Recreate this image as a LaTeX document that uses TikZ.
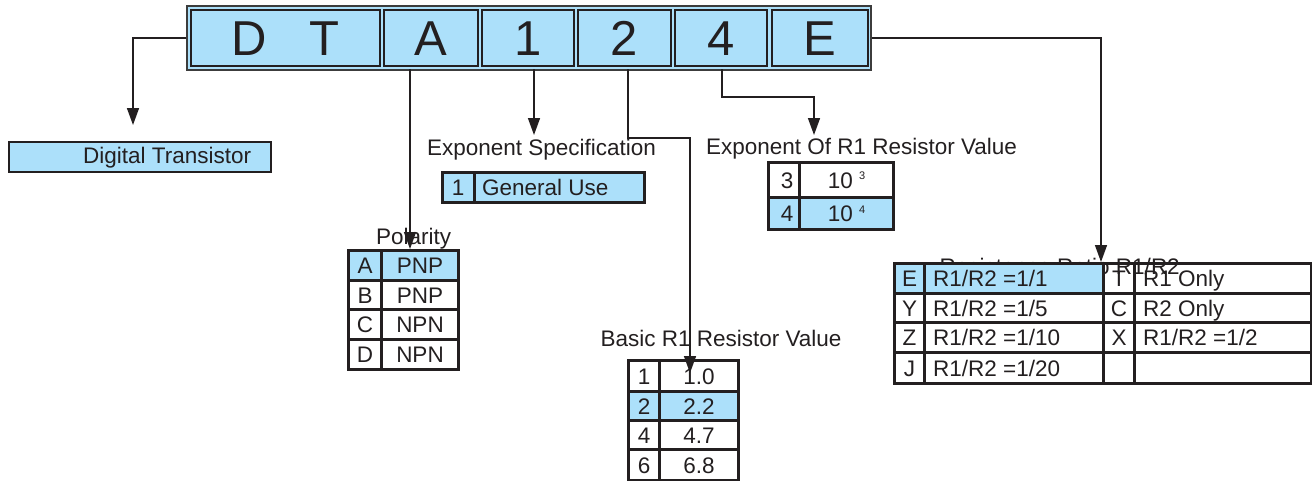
\documentclass[tikz,border=0pt]{standalone}
\usepackage{fontspec}
\setmainfont{Liberation Sans}
\usetikzlibrary{arrows.meta,calc}
\definecolor{cellblue}{RGB}{172,224,250}
\definecolor{ink}{RGB}{35,31,32}
\definecolor{bargray}{RGB}{60,60,60}
\newcommand\tabfont{\fontsize{22.5}{27}\selectfont}
\newcommand\bigfont{\fontsize{49}{49}\selectfont}
\newcommand\tcell[7]{\pgfmathsetmacro\cw{#4-#2}\pgfmathsetmacro\ch{#5-#3}%
  \node[#6, minimum width=\cw pt, minimum height=\ch pt, anchor=north west] (#1) at (#2,#3) {#7};}
\tikzset{
  cellbase/.style={draw=ink, line width=3pt, font=\tabfont, text=ink, inner sep=0pt,
    text height=16.1pt, text depth=0pt},
  tblue/.style={cellbase, fill=cellblue},
  twhite/.style={cellbase},
  sblue/.style={cellbase, fill=cellblue, line width=2.5pt},
  dtbox/.style={draw=ink, line width=1.5pt, fill=cellblue, inner sep=0pt},
  barouter/.style={draw=bargray, line width=2pt, fill=cellblue, inner sep=0pt},
  barbox/.style={draw=ink, line width=1.8pt, fill=cellblue, inner sep=0pt,
    font=\bigfont, text=ink, text height=35.1pt, text depth=0pt},
  lbl/.style={font=\tabfont, text=ink, inner sep=0pt},
  ctext/.style={font=\tabfont, text=ink, inner sep=0pt, text height=16.1pt, text depth=0pt},
  arr/.style={draw=ink, line width=1.5pt, -{Triangle[width=12pt,length=17pt]}},
}
\begin{document}
\begin{tikzpicture}[x=1pt,y=-1pt]
\useasboundingbox (0,0) rectangle (1312,480);

% ---- top code bar
\node[barouter, minimum width=684.5pt, minimum height=64pt, anchor=north west] (bar) at (185.5,5) {};
\tcell{bDT}{190}{9}{379}{65}{barbox}{D\hspace{42.7pt}T}
\tcell{bA}{383}{9}{477}{65}{barbox}{A}
\tcell{bOne}{481}{9}{573}{65}{barbox}{1}
\tcell{bTwo}{577}{9}{670}{65}{barbox}{2}
\tcell{bFour}{674}{9}{766}{65}{barbox}{4}
\tcell{bE}{771}{9}{867}{65}{barbox}{E}

% ---- Digital Transistor
\tcell{dt}{8}{141}{270}{171}{dtbox}{}
\node[lbl, anchor=base west] (tDT) at (83,163) {Digital Transistor};

% ---- Exponent specification
\node[lbl, anchor=base] (tExpSpec) at (541.5,155) {Exponent Specification};
\tcell{es1}{441}{171}{473}{201}{sblue}{1}
\tcell{es1v}{473}{171}{643}{201}{sblue}{}
\node[ctext, anchor=west] (tGU) at ([xshift=9pt]es1v.west) {General Use};

% ---- Polarity
\node[lbl, anchor=base] (tPol) at (413.7,244) {Polarity};
\tcell{pA}{347}{249}{380}{279}{tblue}{A}
\tcell{pAv}{380}{249}{457}{279}{tblue}{PNP}
\tcell{pB}{347}{279}{380}{308}{twhite}{B}
\tcell{pBv}{380}{279}{457}{308}{twhite}{PNP}
\tcell{pC}{347}{308}{380}{338}{twhite}{C}
\tcell{pCv}{380}{308}{457}{338}{twhite}{NPN}
\tcell{pD}{347}{338}{380}{368}{twhite}{D}
\tcell{pDv}{380}{338}{457}{368}{twhite}{NPN}

% ---- Basic R1 resistor value
\node[lbl, anchor=base] (tBasic) at (721,346) {Basic R1 Resistor Value};
\tcell{r1}{627}{359}{658}{390}{twhite}{1}
\tcell{r1v}{658}{359}{737}{390}{twhite}{1.0}
\tcell{r2}{627}{390}{658}{419}{tblue}{2}
\tcell{r2v}{658}{390}{737}{419}{tblue}{2.2}
\tcell{r4}{627}{419}{658}{448}{twhite}{4}
\tcell{r4v}{658}{419}{737}{448}{twhite}{4.7}
\tcell{r6}{627}{448}{658}{479}{twhite}{6}
\tcell{r6v}{658}{448}{737}{479}{twhite}{6.8}

% ---- Exponent of R1 resistor value
\node[lbl, anchor=base] (tExpR1) at (861.5,154) {Exponent Of R1 Resistor Value};
\tcell{x3}{767}{161}{798}{196}{twhite}{\hspace{6pt}3}
\tcell{x3v}{798}{161}{892}{196}{twhite}{10 \raisebox{8.2pt}{\fontsize{11}{11}\selectfont 3}\hspace{6pt}}
\tcell{x4}{767}{196}{798}{228}{tblue}{\hspace{6pt}4}
\tcell{x4v}{798}{196}{892}{228}{tblue}{10 \raisebox{8.2pt}{\fontsize{11}{11}\selectfont 4}\hspace{6pt}}

% ---- Resistance ratio
\node[lbl, anchor=base east] (tRatio) at (1180,274) {Resistance Ratio R1/R2};
\tcell{qE}{893}{262}{923}{292}{tblue}{E}
\tcell{qEv}{923}{262}{1102}{292}{tblue}{}
\tcell{qT}{1102}{262}{1133}{292}{twhite}{T}
\tcell{qTv}{1133}{262}{1310}{292}{twhite}{}
\tcell{qY}{893}{292}{923}{321}{twhite}{Y}
\tcell{qYv}{923}{292}{1102}{321}{twhite}{}
\tcell{qC}{1102}{292}{1133}{321}{twhite}{C}
\tcell{qCv}{1133}{292}{1310}{321}{twhite}{}
\tcell{qZ}{893}{321}{923}{351}{twhite}{Z}
\tcell{qZv}{923}{321}{1102}{351}{twhite}{}
\tcell{qX}{1102}{321}{1133}{351}{twhite}{X}
\tcell{qXv}{1133}{321}{1310}{351}{twhite}{}
\tcell{qJ}{893}{351}{923}{382}{twhite}{J}
\tcell{qJv}{923}{351}{1102}{382}{twhite}{}
\tcell{qK}{1102}{351}{1133}{382}{twhite}{}
\tcell{qKv}{1133}{351}{1310}{382}{twhite}{}
\node[ctext, anchor=west] (tqE) at ([xshift=10pt]qEv.west) {R1/R2 =1/1};
\node[ctext, anchor=west] (tqY) at ([xshift=10pt]qYv.west) {R1/R2 =1/5};
\node[ctext, anchor=west] (tqZ) at ([xshift=10pt]qZv.west) {R1/R2 =1/10};
\node[ctext, anchor=west] (tqJ) at ([xshift=10pt]qJv.west) {R1/R2 =1/20};
\node[ctext, anchor=west] (tqT) at ([xshift=10pt]qTv.west) {R1 Only};
\node[ctext, anchor=west] (tqC) at ([xshift=10pt]qCv.west) {R2 Only};
\node[ctext, anchor=west] (tqX) at ([xshift=10pt]qXv.west) {R1/R2 =1/2};

% ---- connectors
\coordinate (cDT) at (133,125);
\coordinate (cA0) at (410,69);   \coordinate (cA1) at (410,249);
\coordinate (c10) at (534,69);   \coordinate (c11) at (534,135);
\coordinate (c20) at (628,69);   \coordinate (c2m) at (690,138); \coordinate (c21) at (690,373);
\coordinate (c40) at (722,69);   \coordinate (c4m) at (814,97);  \coordinate (c41) at (814,135);
\coordinate (cE) at (1101,262);

\draw[arr] (bar.west) -| (cDT);
\draw[arr] (cA0) -- (cA1);
\draw[arr] (c10) -- (c11);
\draw[arr] (c20) |- (c2m) -- (c21);
\draw[arr] (c40) |- (c4m) -- (c41);
\draw[arr] (bar.east) -| (cE);
\end{tikzpicture}
\end{document}
